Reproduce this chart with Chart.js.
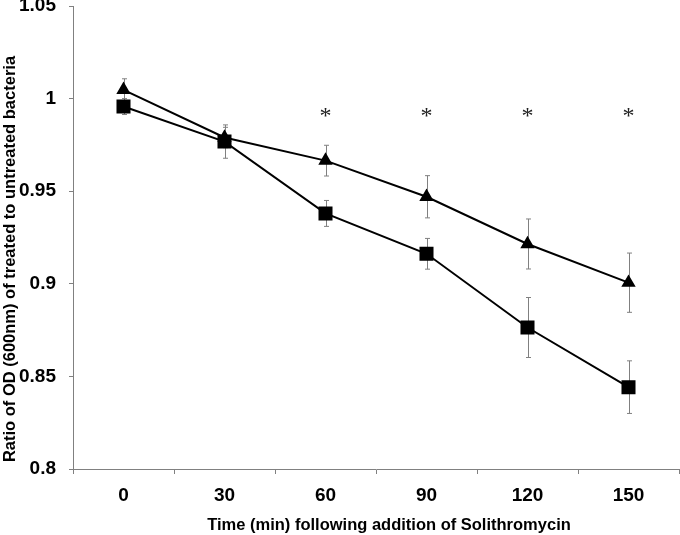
<!DOCTYPE html>
<html>
<head>
<meta charset="utf-8">
<script src="https://cdn.jsdelivr.net/npm/chart.js@4.4.1/dist/chart.umd.min.js"></script>
<style>
  body { margin: 0; background: #fff; }
  #wrap { width: 680px; height: 535px; }
</style>
</head>
<body>
<div id="wrap"><canvas id="myChart" width="680" height="535"></canvas></div>
<script>
// time points (min)
const times = ['0', '30', '60', '90', '120', '150'];

// triangle series (upper line) and its error bars
const triMeans = [1.0047, 0.979, 0.9665, 0.947, 0.9215, 0.9006];
const triErr   = [0.006, 0.0055, 0.0083, 0.0114, 0.0135, 0.016];

// square series (lower line) and its error bars
const sqMeans = [0.9957, 0.9768, 0.938, 0.9162, 0.8764, 0.8442];
const sqErr   = [0.0043, 0.009, 0.007, 0.0083, 0.0162, 0.0142];

// significance asterisks
const starLevel = [null, null, 0.993, 0.993, 0.993, 0.993];

const yTicks = [0.8, 0.85, 0.9, 0.95, 1, 1.05];

const xTitle = 'Time (min) following addition of Solithromycin';
const yTitle = 'Ratio of OD (600nm) of treated to untreated bacteria';

const gray = '#808080';
const font = 'Liberation Sans';

// error bars go under the lines, asterisks and axis titles on top
const extras = {
  id: 'extras',
  beforeDatasetsDraw(chart) {
    const ctx = chart.ctx;
    const xs = chart.scales.x, ys = chart.scales.y;
    const groups = [[triMeans, triErr], [sqMeans, sqErr]];
    ctx.save();
    ctx.strokeStyle = gray;
    ctx.lineWidth = 1;
    groups.forEach(g => {
      g[0].forEach((m, i) => {
        const x = Math.round(xs.getPixelForValue(i)) + 0.5;
        const top = ys.getPixelForValue(m + g[1][i]);
        const bot = ys.getPixelForValue(m - g[1][i]);
        ctx.beginPath();
        ctx.moveTo(x, top); ctx.lineTo(x, bot);
        ctx.moveTo(x - 2.5, top); ctx.lineTo(x + 2.5, top);
        ctx.moveTo(x - 2.5, bot); ctx.lineTo(x + 2.5, bot);
        ctx.stroke();
      });
    });
    ctx.restore();
  },
  afterDraw(chart) {
    const ctx = chart.ctx;
    const xs = chart.scales.x, ys = chart.scales.y;
    ctx.save();
    ctx.fillStyle = '#222';
    ctx.font = '24px "Liberation Serif"';
    ctx.textAlign = 'center';
    ctx.textBaseline = 'alphabetic';
    starLevel.forEach((v, i) => {
      if (v === null) return;
      ctx.fillText('*', xs.getPixelForValue(i), ys.getPixelForValue(v) + 24 * 0.47);
    });

    ctx.fillStyle = '#000';
    ctx.font = 'bold 16.5px "' + font + '"';
    ctx.fillText(xTitle, 389, 529.5);

    ctx.translate(10, 259);
    ctx.rotate(-Math.PI / 2);
    ctx.textBaseline = 'middle';
    ctx.fillText(yTitle, 0, 0);
    ctx.restore();
  }
};

const ctx = document.getElementById('myChart').getContext('2d');
const myChart = new Chart(ctx, {
  type: 'line',
  data: {
    labels: times,
    datasets: [{
      data: triMeans,
      borderColor: '#000',
      backgroundColor: '#000',
      borderWidth: 2,
      pointStyle: 'triangle',
      pointRadius: 6.3,
      tension: 0,
      clip: false
    }, {
      data: sqMeans,
      borderColor: '#000',
      backgroundColor: '#000',
      borderWidth: 2,
      pointStyle: 'rect',
      pointRadius: 8.5,
      tension: 0,
      clip: false
    }]
  },
  options: {
    responsive: false,
    animation: false,
    layout: { autoPadding: false, padding: { top: 6, right: 1, left: 0, bottom: 0 } },
    plugins: { legend: { display: false }, tooltip: { enabled: false } },
    scales: {
      x: {
        offset: true,
        afterFit(scale) {
          scale.height = 66;
          scale.paddingLeft = 0;
          scale.paddingRight = 0;
        },
        grid: { offset: true, drawOnChartArea: false, drawTicks: true, tickLength: 5, color: gray },
        border: { color: gray, width: 1 },
        ticks: { color: '#000', font: { family: font, size: 19, weight: 'bold' }, padding: 10, maxRotation: 0 }
      },
      y: {
        min: 0.8,
        max: 1.05,
        afterFit(scale) {
          scale.width = 73;
          scale.paddingTop = 0;
          scale.paddingBottom = 0;
        },
        afterBuildTicks(scale) { scale.ticks = yTicks.map(v => ({ value: v })); },
        grid: { drawOnChartArea: false, drawTicks: true, tickLength: 4, color: gray },
        border: { color: gray, width: 1 },
        ticks: {
          color: '#000',
          font: { family: font, size: 19, weight: 'bold' },
          padding: 13,
          callback: v => String(+v.toFixed(2))
        }
      }
    }
  },
  plugins: [extras]
});
</script>
</body>
</html>
